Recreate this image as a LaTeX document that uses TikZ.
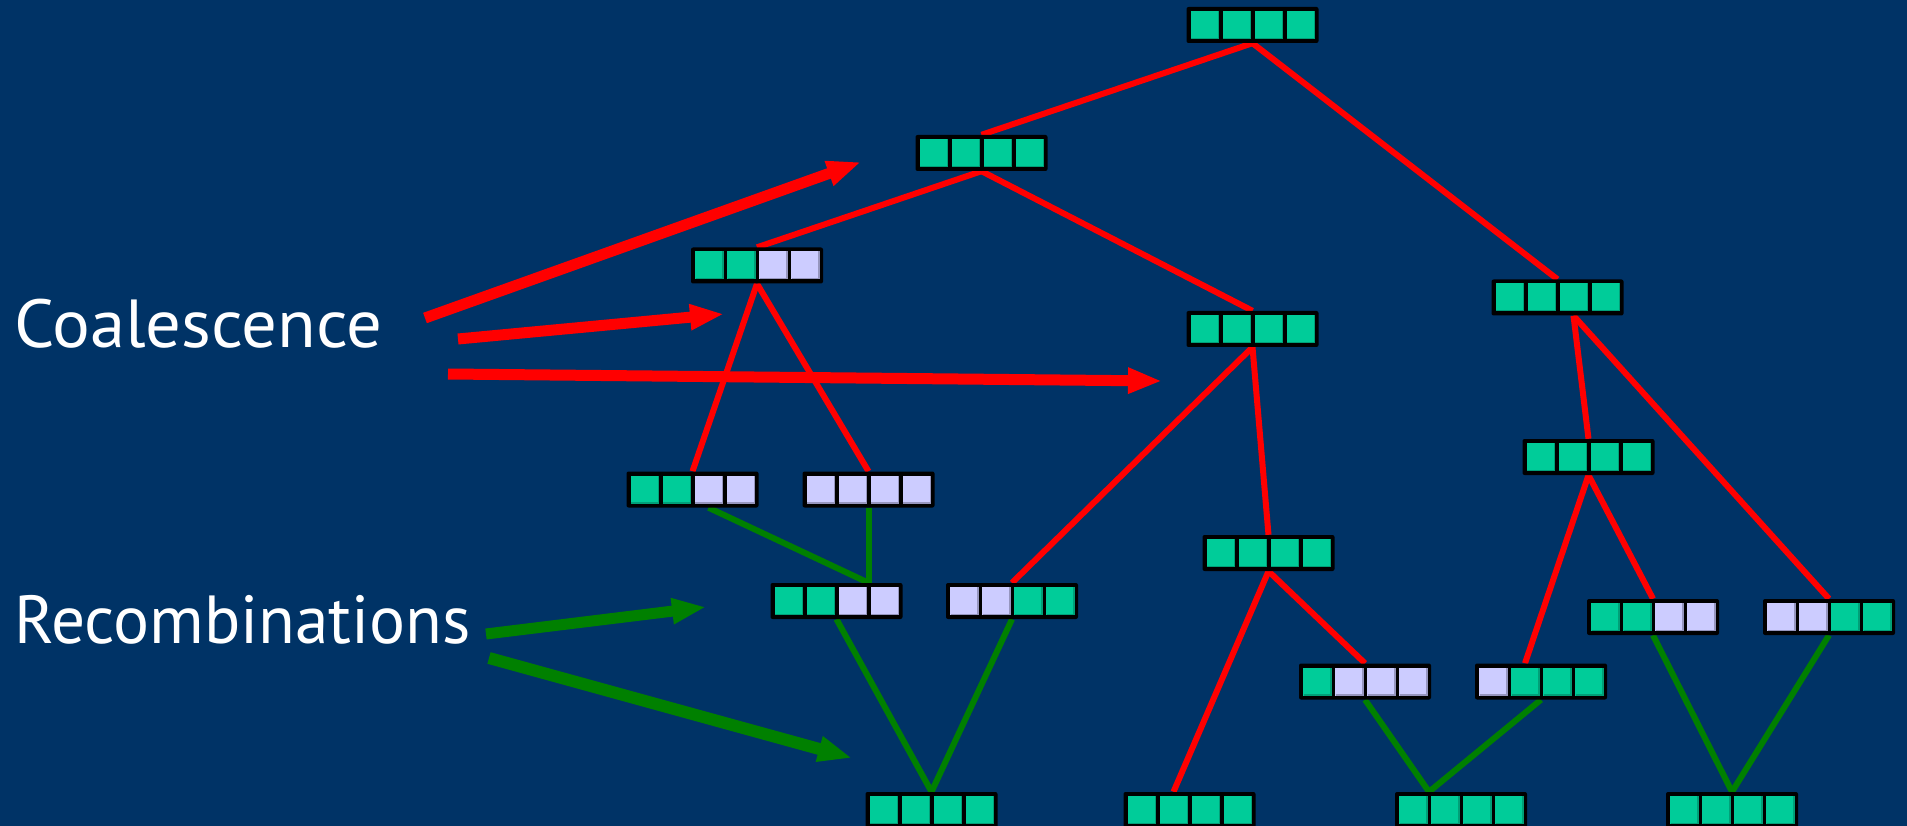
\documentclass[tikz,border=0pt]{standalone}
\usepackage{fontspec}
\setmainfont{PT Sans}
\usetikzlibrary{arrows.meta}

\definecolor{bgblue}{RGB}{0,51,102}
\definecolor{cellG}{RGB}{0,204,153}
\definecolor{cellP}{RGB}{204,204,255}
\definecolor{edgeG}{RGB}{0,160,120}
\definecolor{edgeP}{RGB}{150,150,190}
\definecolor{linkred}{RGB}{255,0,0}
\definecolor{linkgreen}{RGB}{0,128,0}

\pgfdeclarelayer{canvas}
\pgfdeclarelayer{links}
\pgfsetlayers{canvas,links,main}

\tikzset{
  haplobox/.style={rectangle, fill=black, draw=none, inner sep=0pt,
    minimum width=132pt, minimum height=36pt, rounded corners=2pt},
  coallink/.style={draw=linkred, line width=6pt},
  recolink/.style={draw=linkgreen, line width=6pt},
  bigarrow/.style={line width=11pt, -{Triangle[length=34pt,width=24pt]}},
  caption/.style={text=white, font=\fontsize{68}{80}\selectfont,
    inner sep=0pt, anchor=base west},
}

% a haplotype: black frame with four coloured cells (G = green, P = lilac)
\newcommand\haplo[3]{%
  \node[haplobox] (#1) at (#2) {};
  \foreach \cc [count=\k] in {#3}{%
    \fill[cell\cc] ([xshift=32pt*\k-94pt,yshift=14pt]#1.center) rectangle ++(28,28);
    \draw[edge\cc, line width=1.2pt]
      ([xshift=32pt*\k-93.4pt,yshift=-13.4pt]#1.center) -- ++(27.4,0) -- ++(0,-27.4);
  }%
}

\begin{document}
\begin{tikzpicture}[x=1pt, y=-1pt]
\begin{pgfonlayer}{canvas}
  \fill[bgblue] (0,0) rectangle (1907,826);
\end{pgfonlayer}
\useasboundingbox (0,0) rectangle (1907,826);

% haplotypes
\haplo{b1}{1252.5,25}{G,G,G,G}
\haplo{b2}{981.5,153}{G,G,G,G}
\haplo{b3}{757,265.5}{G,G,P,P}
\haplo{b4}{1252.5,329}{G,G,G,G}
\haplo{b5}{1557.5,297.5}{G,G,G,G}
\haplo{b6}{692.5,489.5}{G,G,P,P}
\haplo{b7}{868.5,489.5}{P,P,P,P}
\haplo{b8}{1588.5,457}{G,G,G,G}
\haplo{b9}{1268.5,553}{G,G,G,G}
\haplo{b10}{836.5,601}{G,G,P,P}
\haplo{b11}{1012,601}{P,P,G,G}
\haplo{b12}{1653,617}{G,G,P,P}
\haplo{b13}{1829,617}{P,P,G,G}
\haplo{b14}{1365,681.5}{G,P,P,P}
\haplo{b15}{1541,681.5}{P,G,G,G}
\haplo{b16}{931.5,810}{G,G,G,G}
\haplo{b17}{1189.5,810}{G,G,G,G}
\haplo{b18}{1461,810}{G,G,G,G}
\haplo{b19}{1732,810}{G,G,G,G}

% genealogy links, drawn beneath the haplotypes
\begin{pgfonlayer}{links}
  \draw[coallink] (b1.south) -- (b2.north);
  \draw[coallink] (b1.south) -- (b5.north);
  \draw[coallink] (b2.south) -- (b3.north);
  \draw[coallink] (b2.south) -- (b4.north);
  \draw[coallink] (b3.south) -- (b6.north);
  \draw[coallink] (b3.south) -- (b7.north);
  \draw[coallink] (b4.south) -- (b11.north);
  \draw[coallink] (b4.south) -- (b9.north);
  \draw[coallink] ([xshift=16pt]b5.south) -- (b8.north);
  \draw[coallink] ([xshift=16pt]b5.south) -- (b13.north);
  \draw[coallink] (b8.south) -- (b12.north);
  \draw[coallink] (b8.south) -- ([xshift=-16pt]b15.north);
  \draw[coallink] (b9.south) -- (b14.north);
  \draw[coallink] (b9.south) -- ([xshift=-16pt]b17.north);

  \draw[recolink] ([xshift=16pt]b6.south) -- ([xshift=32pt]b10.north);
  \draw[recolink] (b7.south) -- ([xshift=32pt]b10.north);
  \draw[recolink] (b10.south) -- (b16.north);
  \draw[recolink] (b11.south) -- (b16.north);
  \draw[recolink] (b14.south) -- ([xshift=-32pt]b18.north);
  \draw[recolink] (b15.south) -- ([xshift=-32pt]b18.north);
  \draw[recolink] (b12.south) -- (b19.north);
  \draw[recolink] (b13.south) -- (b19.north);
\end{pgfonlayer}

% captions
\node[caption] (coal) at (14,348) {\scalebox{1.04}[1]{Coalescence}};
\node[caption] (reco) at (14,643) {\scalebox{0.99}[1]{Recombinations}};

% pointer arrows
\coordinate (c1s) at (425,318);  \coordinate (c1e) at (861,162);
\coordinate (c2s) at (458,339);  \coordinate (c2e) at (724,314);
\coordinate (c3s) at (448,374);  \coordinate (c3e) at (1162,381);
\coordinate (r1s) at (486,634);  \coordinate (r1e) at (706,607);
\coordinate (r2s) at (489,658);  \coordinate (r2e) at (852,758);
\draw[bigarrow, linkred] (c1s) -- (c1e);
\draw[bigarrow, linkred] (c2s) -- (c2e);
\draw[bigarrow, linkred] (c3s) -- (c3e);
\draw[bigarrow, linkgreen] (r1s) -- (r1e);
\draw[bigarrow, linkgreen, line width=12pt] (r2s) -- (r2e);
\end{tikzpicture}
\end{document}
